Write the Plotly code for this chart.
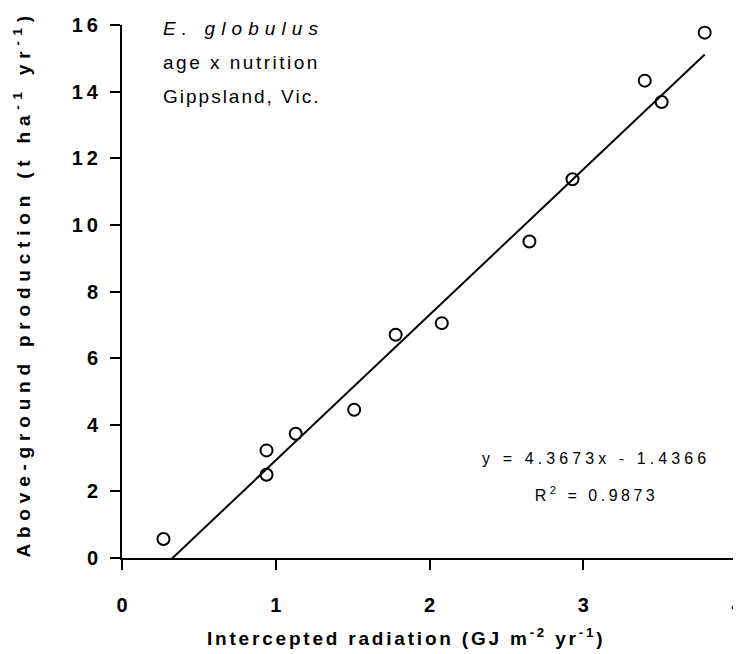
import json

import plotly.graph_objects as go

# Intercepted radiation (GJ m-2 yr-1) vs above-ground production (t ha-1 yr-1)
radiation = [0.27, 0.94, 0.94, 1.13, 1.51, 1.78, 2.08, 2.65, 2.93, 3.40, 3.51, 3.79]
production = [0.57, 3.23, 2.50, 3.73, 4.45, 6.70, 7.05, 9.50, 11.37, 14.33, 13.69, 15.77]

# linear fit as printed on the chart
slope = 4.3673
intercept = -1.4366
r_squared = 0.9873

x_ticks = [0, 1, 2, 3, 4]
y_ticks = [0, 2, 4, 6, 8, 10, 12, 14, 16]

site_lines = ["<i>E. globulus</i>", "age x nutrition", "Gippsland, Vic."]

FONT = "Liberation Sans, Arial, sans-serif"

fit_x = [min(radiation), max(radiation)]
fit_y = [slope * x + intercept for x in fit_x]

fig = go.Figure()
fig.add_trace(go.Scatter(
    x=fit_x, y=fit_y, mode="lines",
    line=dict(color="black", width=2), showlegend=False, hoverinfo="skip",
))
fig.add_trace(go.Scatter(
    x=radiation, y=production, mode="markers",
    marker=dict(symbol="circle-open", size=12, color="black", line=dict(width=2)),
    showlegend=False, cliponaxis=False,
))

axis_common = dict(
    showline=True, linecolor="black", linewidth=2, mirror=False,
    ticks="outside", ticklen=10, tickwidth=2, tickcolor="black",
    showgrid=False, zeroline=False, automargin=False,
    ticklabeloverflow="allow",
    tickfont=dict(family=FONT, size=20, color="black", weight="bold"),
)
fig.update_xaxes(range=[0, 4], tickvals=x_ticks, ticklabelstandoff=18, **axis_common)
fig.update_yaxes(range=[0, 16], tickvals=y_ticks, ticklabelstandoff=4, **axis_common)

# axis titles as annotations so they can sit where the original puts them
title_font = dict(family=FONT, size=19, color="black", weight="bold")
fig.add_annotation(
    xref="paper", yref="paper", x=0.461, y=-0.148,
    text="Intercepted radiation (GJ m<sup>-2</sup> yr<sup>-1</sup>)",
    showarrow=False, xanchor="center", yanchor="middle", font=title_font,
)
fig.add_annotation(
    xref="paper", yref="paper", x=-0.163, y=0.515, textangle=-90,
    text="Above-ground production (t ha<sup>-1</sup> yr<sup>-1</sup>)",
    showarrow=False, xanchor="center", yanchor="middle", font=title_font,
)

label_font = dict(family=FONT, size=19, color="black")
for i, txt in enumerate(site_lines):
    fig.add_annotation(
        xref="paper", yref="paper", x=0.063, y=0.993 - i * 0.0638,
        text=txt, showarrow=False, xanchor="left", yanchor="middle", align="left",
        font=label_font,
    )

eq_font = dict(family=FONT, size=16, color="black")
fig.add_annotation(
    xref="paper", yref="paper", x=0.7715, y=0.1876,
    text=f"y = {slope}x - {abs(intercept)}", showarrow=False,
    xanchor="center", yanchor="middle", font=eq_font,
)
fig.add_annotation(
    xref="paper", yref="paper", x=0.7715, y=0.120,
    text=f"R<sup>2</sup> = {r_squared}", showarrow=False,
    xanchor="center", yanchor="middle", font=eq_font,
)

# the page body keeps its default 8px margin, so the figure is 8px smaller
# than the window and the plot area still lands where the original has it
fig.update_layout(
    width=733, height=646,
    margin=dict(l=114, r=4, t=17, b=96),
    plot_bgcolor="white", paper_bgcolor="white",
    showlegend=False,
)

# the original was exported with widely tracked lettering; plotly has no
# letter-spacing option, so it is set on the drawn svg text afterwards
spacing = [
    [".ytick text", 4],
    ['.annotation[data-index="0"] text', 2.8],
    ['.annotation[data-index="1"] text', 5.8],
    ['.annotation[data-index="2"] text', 6.1],
    ['.annotation[data-index="3"] text', 2.5],
    ['.annotation[data-index="4"] text', 2.0],
    ['.annotation[data-index="5"] text', 4.1],
    ['.annotation[data-index="6"] text', 3.5],
]
post_script = """
var gd = document.getElementById('{plot_id}');
%s.forEach(function (s) {
    gd.querySelectorAll(s[0]).forEach(function (t) {
        t.style.letterSpacing = s[1] + 'px';
    });
});
""" % json.dumps(spacing)

fig.write_html("out.html", post_script=post_script)
